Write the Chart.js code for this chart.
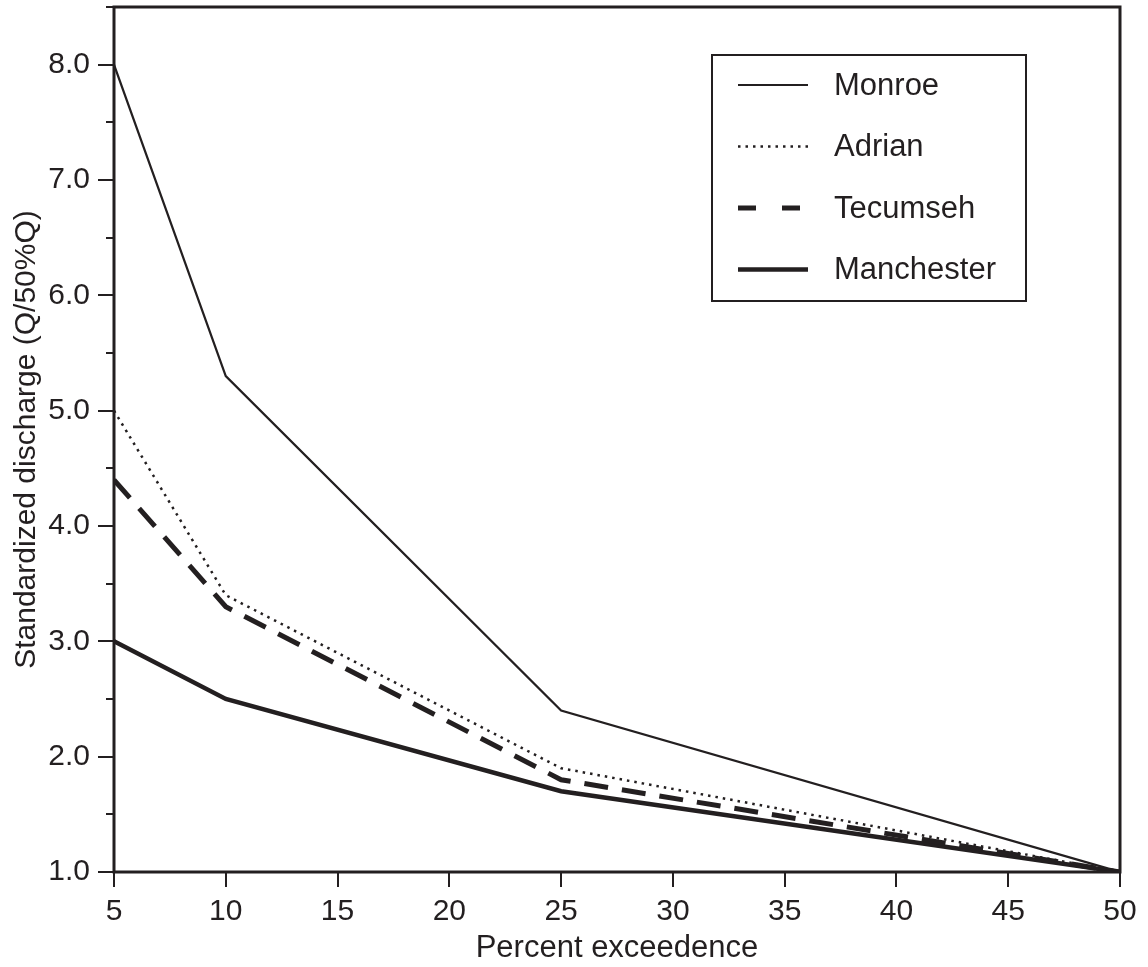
<!DOCTYPE html>
<html>
<head>
<meta charset="utf-8">
<script src="https://cdn.jsdelivr.net/npm/chart.js@4/dist/chart.umd.min.js"></script>
<style>
  html, body { margin: 0; padding: 0; background: #fff; }
  canvas { display: block; }
</style>
</head>
<body>
<canvas id="chart" width="1148" height="967"></canvas>
<script>
// percent exceedence on the x axis
const percentExceedence = [5, 10, 25, 50];
// Q / 50%Q for each gauge
const monroe = [8.0, 5.3, 2.4, 1.0];
const adrian = [5.0, 3.4, 1.9, 1.0];
const tecumseh = [4.4, 3.3, 1.8, 1.0];
const manchester = [3.0, 2.5, 1.7, 1.0];
const seriesNames = ['Monroe', 'Adrian', 'Tecumseh', 'Manchester'];

const INK = '#231f20';
const FONT = '"Liberation Sans", Arial, Helvetica, sans-serif';

const toPoints = vals => vals.map((v, i) => ({ x: percentExceedence[i], y: v }));

// keep the plot box where the original has it
const noPad = scale => {
  scale.paddingLeft = 0;
  scale.paddingRight = 0;
  scale.paddingTop = 0;
  scale.paddingBottom = 0;
};

// outward tick marks, frame and legend box drawn on top
const framePlugin = {
  id: 'frame',
  afterDraw(chart) {
    const { ctx, chartArea: a, scales } = chart;
    ctx.save();
    ctx.strokeStyle = INK;
    ctx.lineCap = 'butt';

    ctx.lineWidth = 2;
    scales.y.ticks.forEach(t => {
      const py = Math.round(scales.y.getPixelForValue(t.value));
      const len = Number.isInteger(t.value) ? 16 : 8;
      ctx.beginPath();
      ctx.moveTo(a.left - len, py);
      ctx.lineTo(a.left, py);
      ctx.stroke();
    });
    scales.x.ticks.forEach(t => {
      const px = Math.round(scales.x.getPixelForValue(t.value));
      ctx.beginPath();
      ctx.moveTo(px, a.bottom);
      ctx.lineTo(px, a.bottom + 15);
      ctx.stroke();
    });

    ctx.lineWidth = 3;
    ctx.strokeRect(a.left, a.top, a.right - a.left, a.bottom - a.top);

    // legend
    const bx = a.right - 408, by = a.top + 48, bw = 314, bh = 246;
    ctx.lineWidth = 2;
    ctx.strokeRect(bx, by, bw, bh);
    ctx.font = '31px ' + FONT;
    ctx.fillStyle = INK;
    ctx.textBaseline = 'middle';
    chart.data.datasets.forEach((ds, i) => {
      const y = by + 30 + i * 61.5;
      ctx.lineWidth = ds.borderWidth;
      ctx.setLineDash(ds.legendDash || ds.borderDash || []);
      ctx.beginPath();
      ctx.moveTo(bx + 26, y);
      ctx.lineTo(bx + 96, y);
      ctx.stroke();
      ctx.setLineDash([]);
      ctx.fillText(ds.label, bx + 122, y + 1);
    });
    ctx.restore();
  }
};

new Chart(document.getElementById('chart'), {
  type: 'line',
  data: {
    datasets: [
      { label: seriesNames[0], data: toPoints(monroe), borderColor: INK, borderWidth: 2.2 },
      { label: seriesNames[1], data: toPoints(adrian), borderColor: INK, borderWidth: 2.5, borderDash: [2.5, 5] },
      { label: seriesNames[2], data: toPoints(tecumseh), borderColor: INK, borderWidth: 5, borderDash: [24, 14], legendDash: [18, 26] },
      { label: seriesNames[3], data: toPoints(manchester), borderColor: INK, borderWidth: 4.5 }
    ]
  },
  options: {
    responsive: false,
    animation: false,
    events: [],
    layout: { padding: { top: 7, right: 28, left: 0, bottom: 0 } },
    elements: {
      point: { radius: 0 },
      line: { tension: 0, borderCapStyle: 'butt', borderJoinStyle: 'miter' }
    },
    plugins: { legend: { display: false }, tooltip: { enabled: false } },
    scales: {
      x: {
        type: 'linear',
        min: 5, max: 50,
        grid: { display: false },
        border: { display: false },
        ticks: { stepSize: 5, color: INK, padding: 14, maxRotation: 0, font: { family: FONT, size: 30 } },
        title: { display: true, text: 'Percent exceedence', color: INK, font: { family: FONT, size: 31 }, padding: { top: 0, bottom: 0 } },
        afterFit(scale) { scale.height = 95; noPad(scale); }
      },
      y: {
        min: 1, max: 8.5,
        grid: { display: false },
        border: { display: false },
        ticks: {
          stepSize: 0.5, color: INK, padding: 16, font: { family: FONT, size: 30 },
          callback: v => Number.isInteger(v) ? v.toFixed(1) : ''
        },
        title: { display: true, text: 'Standardized discharge (Q/50%Q)', color: INK, font: { family: FONT, size: 30 }, padding: { top: 9, bottom: 0 } },
        afterFit(scale) { scale.width = 114; noPad(scale); }
      }
    }
  },
  plugins: [framePlugin]
});
</script>
</body>
</html>
